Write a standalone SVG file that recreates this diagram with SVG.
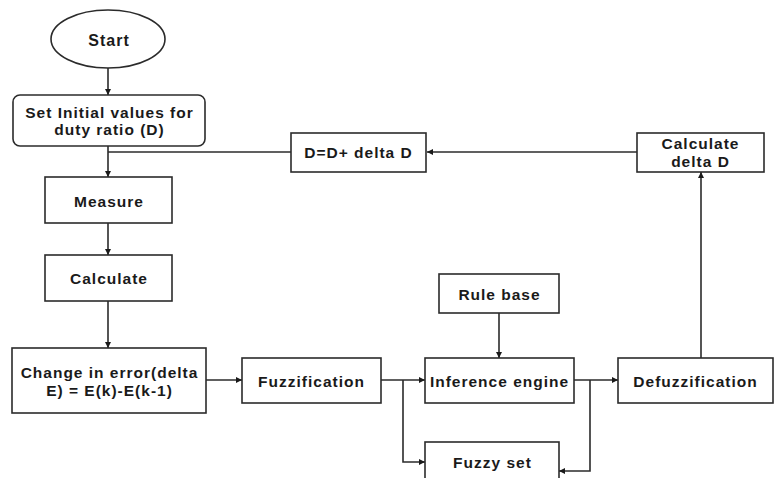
<svg xmlns="http://www.w3.org/2000/svg" width="775" height="478" viewBox="0 0 775 478">
  <style>
    .box { fill: #fff; stroke: #2b2b2b; stroke-width: 1.6; }
    .lbl { font-family: "Liberation Sans", Arial, sans-serif; font-weight: bold; font-size: 15.5px; letter-spacing: 1px; fill: #1a1a1a; text-anchor: middle; dominant-baseline: central; }
    .wire { fill: none; stroke: #2b2b2b; stroke-width: 1.6; }
    .arr { marker-end: url(#head); }
  </style>
  <defs>
    <marker id="head" viewBox="0 0 10 10" refX="10" refY="5" markerWidth="6" markerHeight="6" markerUnits="userSpaceOnUse" orient="auto">
      <path d="M0,0 L10,5 L0,10 Z" fill="#1a1a1a"/>
    </marker>
  </defs>
  <rect width="775" height="478" fill="#fff"/>

  <g id="connectors">
    <path class="wire arr" d="M108,68 V95"/>
    <path class="wire arr" d="M108,146 V177"/>
    <path class="wire" d="M291,152 H108"/>
    <path class="wire arr" d="M637,152 H427"/>
    <path class="wire arr" d="M108,223 V255"/>
    <path class="wire arr" d="M108,301 V348"/>
    <path class="wire arr" d="M206,380 H242"/>
    <path class="wire arr" d="M381,380 H425"/>
    <path class="wire arr" d="M403,380 V462 H425"/>
    <path class="wire arr" d="M499,313 V358"/>
    <path class="wire arr" d="M574,380 H618"/>
    <path class="wire arr" d="M590,380 V471 H559"/>
    <path class="wire arr" d="M701,358 V172"/>
  </g>

  <g id="start">
    <ellipse class="box" cx="108" cy="39" rx="57" ry="29"/>
    <text class="lbl" x="109" y="40" style="font-size:16px">Start</text>
  </g>
  <g id="set-initial">
    <rect class="box" x="13" y="95" width="192" height="51" rx="7"/>
    <text class="lbl" x="109.5" y="112">Set Initial values for</text>
    <text class="lbl" x="109.5" y="129">duty ratio (D)</text>
  </g>
  <g id="measure">
    <rect class="box" x="45" y="177" width="127" height="46"/>
    <text class="lbl" x="109" y="201">Measure</text>
  </g>
  <g id="calculate">
    <rect class="box" x="45" y="255" width="127" height="46"/>
    <text class="lbl" x="109" y="278">Calculate</text>
  </g>
  <g id="change-error">
    <rect class="box" x="12" y="348" width="194" height="65"/>
    <text class="lbl" x="109.5" y="372">Change in error(delta</text>
    <text class="lbl" x="109.5" y="390">E) = E(k)-E(k-1)</text>
  </g>
  <g id="fuzzification">
    <rect class="box" x="242" y="358" width="139" height="45"/>
    <text class="lbl" x="311.5" y="381">Fuzzification</text>
  </g>
  <g id="rule-base">
    <rect class="box" x="439" y="274" width="120" height="39"/>
    <text class="lbl" x="499.5" y="294">Rule base</text>
  </g>
  <g id="inference-engine">
    <rect class="box" x="425" y="358" width="149" height="45"/>
    <text class="lbl" x="499.5" y="381">Inference engine</text>
  </g>
  <g id="fuzzy-set">
    <rect class="box" x="425" y="442" width="134" height="50"/>
    <text class="lbl" x="492.5" y="462">Fuzzy set</text>
  </g>
  <g id="defuzzification">
    <rect class="box" x="618" y="358" width="155" height="45"/>
    <text class="lbl" x="695.5" y="381">Defuzzification</text>
  </g>
  <g id="calc-delta-d">
    <rect class="box" x="637" y="133" width="127" height="39"/>
    <text class="lbl" x="700.5" y="143">Calculate</text>
    <text class="lbl" x="700.5" y="161">delta D</text>
  </g>
  <g id="update-d">
    <rect class="box" x="291" y="133" width="135" height="39"/>
    <text class="lbl" x="358.5" y="152">D=D+ delta D</text>
  </g>
</svg>
